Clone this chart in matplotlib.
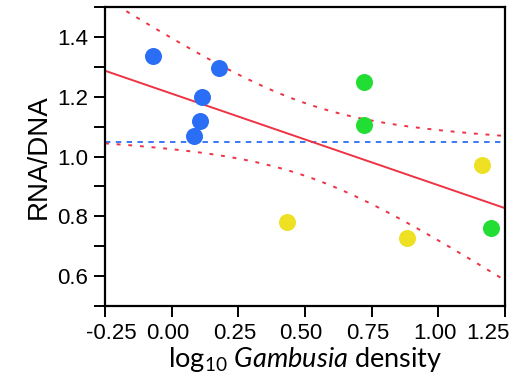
import numpy as np
import matplotlib
matplotlib.use("Agg")
import matplotlib.pyplot as plt
from matplotlib.transforms import ScaledTranslation

plt.rcParams['font.family'] = ['Liberation Sans', 'DejaVu Sans']
plt.rcParams['axes.unicode_minus'] = False
plt.rcParams['mathtext.fontset'] = 'custom'
plt.rcParams['mathtext.rm'] = 'Lato'
plt.rcParams['mathtext.it'] = 'Lato:italic'

# data
blue_x = [-0.07, 0.177, 0.114, 0.106, 0.084]
blue_y = [1.337, 1.297, 1.200, 1.120, 1.067]
green_x = [0.721, 0.721, 1.197]
green_y = [1.250, 1.107, 0.760]
yellow_x = [0.433, 0.882, 1.164]
yellow_y = [0.780, 0.727, 0.973]
ref_level = 1.05
x_ticks = [-0.25, 0.0, 0.25, 0.5, 0.75, 1.0, 1.25]
x_labels = ['-0.25', '0.00', '0.25', '0.50', '0.75', '1.00', '1.25']

x_all = np.array(blue_x + green_x + yellow_x)
y_all = np.array(blue_y + green_y + yellow_y)

# OLS fit and 95% confidence band
slope, icpt = np.polyfit(x_all, y_all, 1)
n = len(x_all)
resid = y_all - (icpt + slope * x_all)
s = np.sqrt(np.sum(resid ** 2) / (n - 2))
sxx = np.sum((x_all - x_all.mean()) ** 2)
t_crit = 2.262
xs = np.linspace(-0.25, 1.25, 200)
fit = icpt + slope * xs
half = t_crit * s * np.sqrt(1 / n + (xs - x_all.mean()) ** 2 / sxx)

fig = plt.figure(figsize=(5.23, 3.87), dpi=100)
ax = fig.add_axes([0.2008, 0.2093, 0.765, 0.7726])

ax.axhline(ref_level, color='#2a6ef5', lw=1.3, ls=(0, (3, 3)))
ax.plot(xs, fit, color='#ee3344', lw=1.4)
ax.plot(xs, fit + half, color='#ee3344', lw=1.4, ls=(0, (2, 4)))
ax.plot(xs, fit - half, color='#ee3344', lw=1.4, ls=(0, (2, 4)))

ax.scatter(blue_x, blue_y, s=150, color='#2a6ef5', zorder=3, lw=0)
ax.scatter(green_x, green_y, s=150, color='#22dd33', zorder=3, lw=0)
ax.scatter(yellow_x, yellow_y, s=150, color='#eee022', zorder=3, lw=0)

ax.set_xlim(-0.25, 1.25)
ax.set_ylim(0.5, 1.5)
ax.set_xticks(x_ticks)
ax.set_xticklabels(x_labels)
yt = np.arange(0.5, 1.51, 0.1)
ax.set_yticks(yt)
ax.set_yticklabels(['' if i % 2 == 0 else '%.1f' % v for i, v in enumerate(yt)])

for sp in ax.spines.values():
    sp.set_linewidth(1.6)
ax.tick_params(direction='out', length=8, width=1.4, labelsize=16, pad=4)

# nudge x tick labels like the original (end labels pulled inside)
shifts = [6, -4, -4, -4, -4, -3, -17]
for lab, dx in zip(ax.get_xticklabels(), shifts):
    lab.set_transform(lab.get_transform() + ScaledTranslation(dx / 100, 0, fig.dpi_scale_trans))

ax.set_ylabel('RNA/DNA', fontsize=20, labelpad=4)
ax.set_xlabel(r'log$_{10}$ $\it{Gambusia}$ density', fontsize=19.5, family='Lato', labelpad=1)

fig.savefig('out.png', dpi=100)
